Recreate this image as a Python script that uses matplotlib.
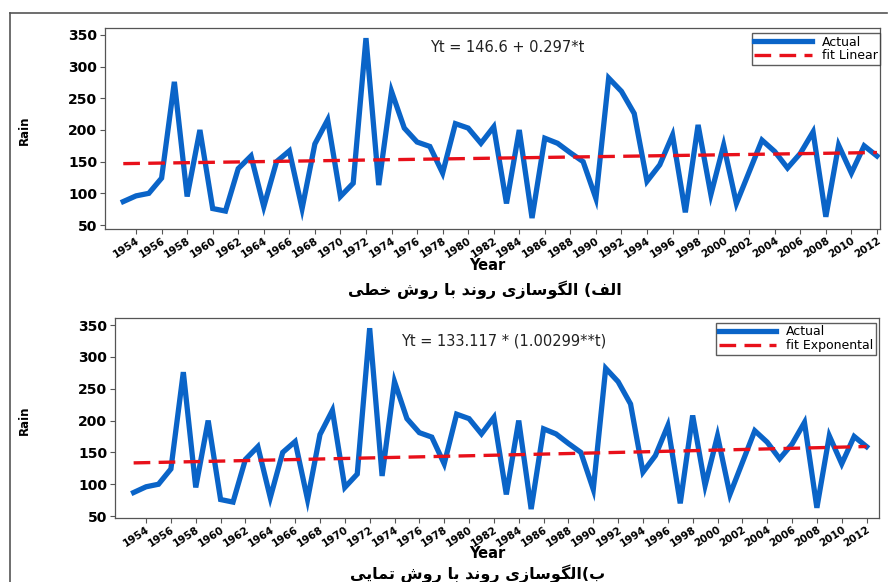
"""
Rain trend: linear and exponential fit
"""

import numpy as np
import matplotlib
matplotlib.use('Agg')
import matplotlib.pyplot as plt
from matplotlib.lines import Line2D

# data
years = list(range(1953, 2013))
rain = [87, 96, 100, 124, 276, 95, 200, 76, 72, 139,
        159, 79, 150, 167, 76, 178, 216, 95, 116, 345,
        113, 261, 203, 181, 174, 132, 210, 203, 179,
        205, 84, 200, 61, 187, 179, 164, 150, 92, 282,
        261, 226, 119, 145, 192, 70, 208, 98, 176, 84,
        134, 184, 166, 140, 163, 197, 63, 176, 132, 175, 159]
tick_years = list(range(1954, 2013, 2))
y_ticks = [50, 100, 150, 200, 250, 300, 350]

lin_a, lin_b = 146.6, 0.297
exp_a, exp_b = 133.117, 1.00299

eq_linear = 'Yt = 146.6 + 0.297*t'
eq_exp = 'Yt = 133.117 * (1.00299**t)'
caption_linear = 'الف) الگوسازی روند با روش خطی'
caption_exp = 'ب)الگوسازی روند با روش تمایی'

BLUE = '#0a64c8'
RED = '#e8101a'

# simple arabic/persian shaping (matplotlib has no shaping / bidi)
FORMS = {
    'ا': ('\uFE8D', '\uFE8E', None, None),
    'ب': ('\uFE8F', '\uFE90', '\uFE91', '\uFE92'),
    'ت': ('\uFE95', '\uFE96', '\uFE97', '\uFE98'),
    'خ': ('\uFEA5', '\uFEA6', '\uFEA7', '\uFEA8'),
    'د': ('\uFEA9', '\uFEAA', None, None),
    'ر': ('\uFEAD', '\uFEAE', None, None),
    'ز': ('\uFEAF', '\uFEB0', None, None),
    'س': ('\uFEB1', '\uFEB2', '\uFEB3', '\uFEB4'),
    'ش': ('\uFEB5', '\uFEB6', '\uFEB7', '\uFEB8'),
    'ط': ('\uFEC1', '\uFEC2', '\uFEC3', '\uFEC4'),
    'ف': ('\uFED1', '\uFED2', '\uFED3', '\uFED4'),
    'ل': ('\uFEDD', '\uFEDE', '\uFEDF', '\uFEE0'),
    'م': ('\uFEE1', '\uFEE2', '\uFEE3', '\uFEE4'),
    'ن': ('\uFEE5', '\uFEE6', '\uFEE7', '\uFEE8'),
    'و': ('\uFEED', '\uFEEE', None, None),
    'گ': ('\uFB92', '\uFB93', '\uFB94', '\uFB95'),
    'ی': ('\uFBFC', '\uFBFD', '\uFBFE', '\uFBFF'),
}
MIRROR = {'(': ')', ')': '('}


def shape_rtl(text):
    """logical persian text -> visual string of presentation forms"""
    out = []
    for i, ch in enumerate(text):
        if ch not in FORMS:
            out.append(MIRROR.get(ch, ch))
            continue
        prev = text[i - 1] if i > 0 else ''
        nxt = text[i + 1] if i + 1 < len(text) else ''
        join_prev = prev in FORMS and FORMS[prev][2] is not None
        join_next = FORMS[ch][2] is not None and nxt in FORMS
        iso, fin, ini, med = FORMS[ch]
        if join_prev and join_next:
            out.append(med)
        elif join_prev:
            out.append(fin)
        elif join_next:
            out.append(ini)
        else:
            out.append(iso)
    return ''.join(reversed(out))


def draw_panel(ax, fit, fit_label, eq_text, eq_pos, xlim, ylim, leg_anchor):
    ax.plot(years, rain, color=BLUE, lw=3.8, label='Actual', solid_joinstyle='miter')
    ax.plot(years, fit, color=RED, lw=2.4, ls=(0, (5, 2.5)), label=fit_label)
    ax.set_xlim(*xlim)
    ax.set_ylim(*ylim)
    ax.set_xticks(tick_years)
    ax.set_xticklabels([str(y) for y in tick_years], rotation=33, ha='right',
                       rotation_mode='anchor', fontsize=7.5, fontweight='bold')
    ax.set_yticks(y_ticks)
    ax.set_yticklabels([str(v) for v in y_ticks], fontsize=10, fontweight='bold')
    ax.tick_params(length=3.5, width=0.8, color='#555555', pad=2)
    ax.tick_params(axis='x', pad=1)
    for s in ax.spines.values():
        s.set_color('#555555')
        s.set_linewidth(0.9)
    ax.text(eq_pos[0], eq_pos[1], eq_text, transform=ax.transAxes, fontsize=10.5,
            color='#222222', va='center')
    leg = ax.legend(loc='upper right', bbox_to_anchor=leg_anchor, borderaxespad=0,
                    fontsize=9, frameon=True, fancybox=False, handlelength=4.6,
                    handletextpad=0.8, borderpad=0.2, labelspacing=0.05)
    leg.get_frame().set_edgecolor('#333333')
    leg.get_frame().set_linewidth(1.0)


fig = plt.figure(figsize=(8.89, 5.82), dpi=100)

# outer frame
fig.add_artist(Line2D([10 / 889, 10 / 889], [0, 1 - 13 / 582], transform=fig.transFigure,
                      color='#555555', lw=1.2))
fig.add_artist(Line2D([10 / 889, 887 / 889], [1 - 13 / 582, 1 - 13 / 582],
                      transform=fig.transFigure, color='#555555', lw=1.2))

t = np.arange(1, len(years) + 1)
fit_lin = lin_a + lin_b * t
fit_exp = exp_a * exp_b ** t

ax1 = fig.add_axes([105 / 889, 1 - 229 / 582, 775 / 889, 201 / 582])
draw_panel(ax1, fit_lin, 'fit Linear', eq_linear, (0.42, 0.905),
           (1951.57, 2012.24), (43.7, 361), (1.0, 0.975))

ax2 = fig.add_axes([115 / 889, 1 - 518 / 582, 764 / 889, 200 / 582])
draw_panel(ax2, fit_exp, 'fit Exponental', eq_exp, (0.375, 0.885),
           (1951.5, 2013.0), (47, 361), (0.996, 0.975))

# labels
fig.text(24 / 889, 1 - 130 / 582, 'Rain', rotation=90, fontsize=8.5, fontweight='bold',
         ha='center', va='center')
fig.text(24 / 889, 1 - 420 / 582, 'Rain', rotation=90, fontsize=8.5, fontweight='bold',
         ha='center', va='center')
fig.text(487 / 889, 1 - 266 / 582, 'Year', fontsize=10.5, fontweight='bold', ha='center', va='center')
fig.text(487 / 889, 1 - 554 / 582, 'Year', fontsize=10.5, fontweight='bold', ha='center', va='center')
fig.text(485 / 889, 1 - 290 / 582, shape_rtl(caption_linear), fontsize=11.5, fontweight='bold',
         ha='center', va='center', family=['DejaVu Sans'])
fig.text(478 / 889, 1 - 574 / 582, shape_rtl(caption_exp), fontsize=11.5, fontweight='bold',
         ha='center', va='center', family=['DejaVu Sans'])

fig.savefig('out.png', dpi=100)
